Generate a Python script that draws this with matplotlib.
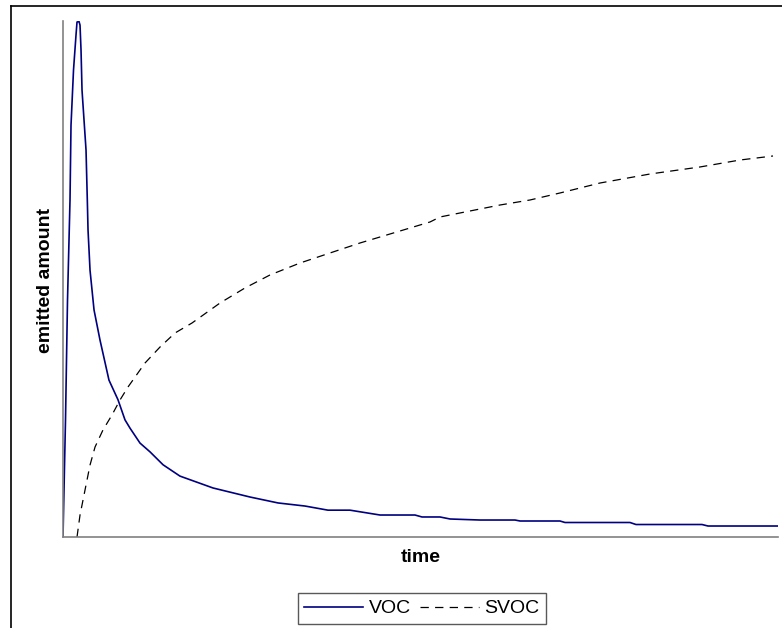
import numpy as np
import matplotlib
matplotlib.use('Agg')
import matplotlib.pyplot as plt
from matplotlib.lines import Line2D

plt.rcParams['font.family'] = ['Liberation Sans', 'DejaVu Sans']
plt.rcParams['lines.scale_dashes'] = False

# VOC: fast peak then slow decay
voc_time = [0, 0.35, 0.63, 0.98, 1.12, 1.47, 1.82, 1.96, 2.24, 2.38, 2.52, 2.66,
            3.22, 3.40, 3.50, 3.78, 4.34, 5.17, 6.43, 7.69, 8.67, 9.37, 10.77,
            12.17, 13.99, 16.36, 20.98, 26.15, 30.07, 33.85, 37.06, 40.14, 44.34,
            49.23, 50.21, 52.73, 54.13, 58.32, 63.22, 63.92, 69.51, 70.21, 79.3,
            80.14, 89.37, 90.21, 100]
voc_amount = [0, 22.7, 45.9, 65.3, 79.8, 90.5, 97.3, 99.8, 99.9, 99.2, 94.4, 86.6,
              75.0, 65.3, 59.5, 51.7, 44.0, 38.2, 30.4, 26.6, 22.7, 21.1, 18.2,
              16.5, 14.0, 11.8, 9.5, 7.75, 6.6, 6.0, 5.2, 5.2, 4.26,
              4.26, 3.88, 3.88, 3.49, 3.29, 3.29, 3.10, 3.10, 2.81, 2.81,
              2.42, 2.42, 2.13, 2.13]

# SVOC: delayed, slow build-up
svoc_time = [1.96, 2.38, 3.08, 3.78, 4.48, 5.59, 6.85, 7.97, 9.09, 11.47, 13.57,
             15.66, 18.04, 21.96, 25.45, 28.95, 33.15, 37.34, 41.54, 45.73, 51.33,
             52.73, 56.92, 61.12, 65.31, 69.51, 75.10, 82.10, 89.09, 94.69, 99.30]
svoc_amount = [0, 4.26, 9.11, 13.95, 17.44, 20.74, 23.64, 26.55, 29.07, 33.72, 36.82,
               39.53, 41.47, 45.35, 48.26, 50.78, 53.10, 55.04, 56.98, 58.72, 61.05,
               62.02, 63.18, 64.34, 65.31, 66.67, 68.60, 70.35, 71.71, 73.06, 73.84]

fig = plt.figure(figsize=(7.82, 6.28), dpi=100)
ax = fig.add_axes([63 / 782, 1 - 537 / 628, 715 / 782, 516 / 628])

l1, = ax.plot(voc_time, voc_amount, color='#000080', lw=1.2, label='VOC')
l2, = ax.plot(svoc_time, svoc_amount, color='black', lw=0.9,
              linestyle=(0, (6, 4.5)), label='SVOC')

ax.set_xlim(0, 100)
ax.set_ylim(0, 100)
ax.set_xticks([])
ax.set_yticks([])
for side in ['top', 'right']:
    ax.spines[side].set_visible(False)
for side in ['left', 'bottom']:
    ax.spines[side].set_color('#808080')
    ax.spines[side].set_linewidth(1.2)

fig.text(421 / 782, 1 - 562 / 628, 'time', ha='center', va='baseline',
         fontsize=14, weight='bold')
fig.text(46 / 782, 1 - 280 / 628, 'emitted amount', rotation=90, ha='center',
         va='center', fontsize=14, weight='bold')

leg = fig.legend(handles=[l1, l2], loc='center', bbox_to_anchor=(422 / 782, 1 - 608.5 / 628),
                 ncol=2, fontsize=14, frameon=True, fancybox=False,
                 handlelength=3.0, handletextpad=0.3, columnspacing=0.5,
                 borderpad=0.35, borderaxespad=0)
leg.get_frame().set_edgecolor('#303030')
leg.get_frame().set_linewidth(1.0)

# outer frame (only top and left edges fall inside the image)
fig.add_artist(Line2D([11 / 782, 11 / 782], [0, 1 - 6 / 628], color='black', lw=1.2,
                      transform=fig.transFigure))
fig.add_artist(Line2D([11 / 782, 1], [1 - 6 / 628, 1 - 6 / 628], color='black', lw=1.2,
                      transform=fig.transFigure))

fig.savefig('out.png', dpi=100)
